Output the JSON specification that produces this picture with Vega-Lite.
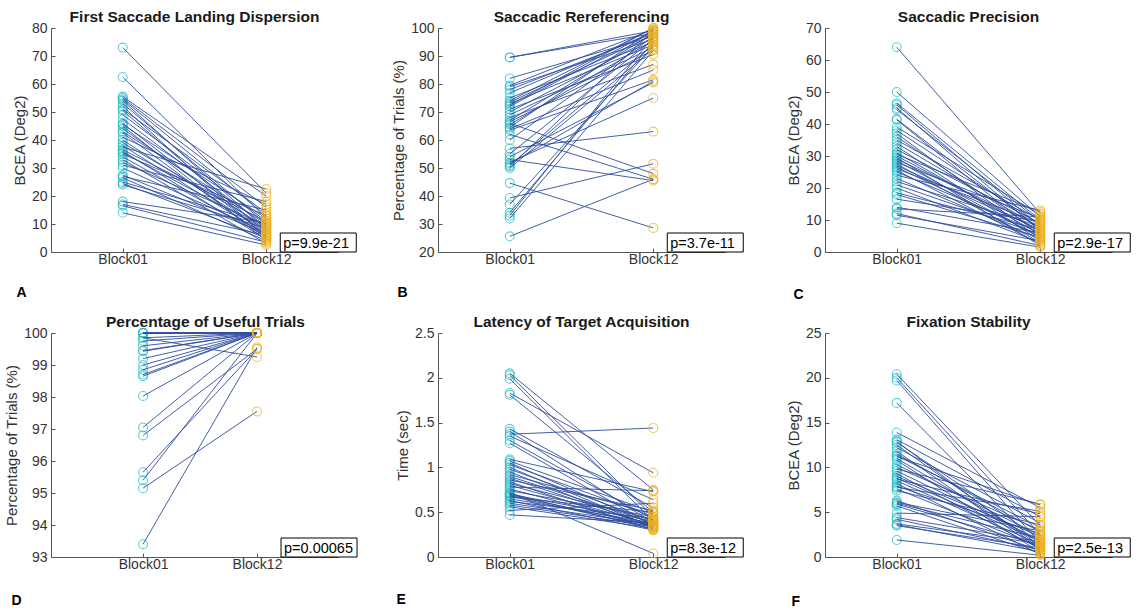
{
"$schema": "https://vega.github.io/schema/vega-lite/v6.json",
"background": "white",
"padding": {"left": 4, "top": 9, "right": 0, "bottom": 0},
"datasets": {
"subjects": [
{"panel":"A","subject":1,"Block01":73,"Block12":21},{"panel":"A","subject":2,"Block01":62.5,"Block12":12},{"panel":"A","subject":3,"Block01":55.5,"Block12":20},{"panel":"A","subject":4,"Block01":55,"Block12":16},{"panel":"A","subject":5,"Block01":54.5,"Block12":13},{"panel":"A","subject":6,"Block01":54,"Block12":8},{"panel":"A","subject":7,"Block01":53,"Block12":10},{"panel":"A","subject":8,"Block01":52,"Block12":5},{"panel":"A","subject":9,"Block01":51,"Block12":14},{"panel":"A","subject":10,"Block01":50.5,"Block12":7},{"panel":"A","subject":11,"Block01":49,"Block12":11},{"panel":"A","subject":12,"Block01":47.5,"Block12":9},{"panel":"A","subject":13,"Block01":46,"Block12":6},{"panel":"A","subject":14,"Block01":45.5,"Block12":12},{"panel":"A","subject":15,"Block01":45,"Block12":4},{"panel":"A","subject":16,"Block01":44,"Block12":8},{"panel":"A","subject":17,"Block01":43,"Block12":10},{"panel":"A","subject":18,"Block01":42.5,"Block12":5},{"panel":"A","subject":19,"Block01":41,"Block12":17},{"panel":"A","subject":20,"Block01":40,"Block12":7},{"panel":"A","subject":21,"Block01":39,"Block12":9},{"panel":"A","subject":22,"Block01":38,"Block12":6},{"panel":"A","subject":23,"Block01":37.5,"Block12":22.5},{"panel":"A","subject":24,"Block01":36.5,"Block12":11},{"panel":"A","subject":25,"Block01":36,"Block12":4.5},{"panel":"A","subject":26,"Block01":35.5,"Block12":8},{"panel":"A","subject":27,"Block01":35,"Block12":13},{"panel":"A","subject":28,"Block01":34,"Block12":5.5},{"panel":"A","subject":29,"Block01":33,"Block12":3},{"panel":"A","subject":30,"Block01":32,"Block12":9.5},{"panel":"A","subject":31,"Block01":31,"Block12":18},{"panel":"A","subject":32,"Block01":30,"Block12":7},{"panel":"A","subject":33,"Block01":27.5,"Block12":6.5},{"panel":"A","subject":34,"Block01":27,"Block12":15},{"panel":"A","subject":35,"Block01":26.5,"Block12":4},{"panel":"A","subject":36,"Block01":25,"Block12":10},{"panel":"A","subject":37,"Block01":24.5,"Block12":5},{"panel":"A","subject":38,"Block01":24,"Block12":8.5},{"panel":"A","subject":39,"Block01":18,"Block12":10.5},{"panel":"A","subject":40,"Block01":17,"Block12":6},{"panel":"A","subject":41,"Block01":16.5,"Block12":3.5},{"panel":"A","subject":42,"Block01":14,"Block12":2.5},
{"panel":"B","subject":1,"Block01":89.5,"Block12":99},{"panel":"B","subject":2,"Block01":89.5,"Block12":98},{"panel":"B","subject":3,"Block01":82,"Block12":97},{"panel":"B","subject":4,"Block01":79.5,"Block12":99.5},{"panel":"B","subject":5,"Block01":79,"Block12":96},{"panel":"B","subject":6,"Block01":76.8,"Block12":98.5},{"panel":"B","subject":7,"Block01":75,"Block12":95},{"panel":"B","subject":8,"Block01":74,"Block12":100},{"panel":"B","subject":9,"Block01":73.5,"Block12":97.5},{"panel":"B","subject":10,"Block01":73,"Block12":94},{"panel":"B","subject":11,"Block01":72,"Block12":99},{"panel":"B","subject":12,"Block01":71,"Block12":90.5},{"panel":"B","subject":13,"Block01":70,"Block12":96.5},{"panel":"B","subject":14,"Block01":69,"Block12":93},{"panel":"B","subject":15,"Block01":68,"Block12":87},{"panel":"B","subject":16,"Block01":67,"Block12":98},{"panel":"B","subject":17,"Block01":66.5,"Block12":92},{"panel":"B","subject":18,"Block01":65.5,"Block12":95.5},{"panel":"B","subject":19,"Block01":64.5,"Block12":99.5},{"panel":"B","subject":20,"Block01":64,"Block12":85},{"panel":"B","subject":21,"Block01":63.5,"Block12":81.5},{"panel":"B","subject":22,"Block01":62,"Block12":46},{"panel":"B","subject":23,"Block01":60,"Block12":97},{"panel":"B","subject":24,"Block01":57,"Block12":63},{"panel":"B","subject":25,"Block01":55,"Block12":96},{"panel":"B","subject":26,"Block01":54,"Block12":80.5},{"panel":"B","subject":27,"Block01":53,"Block12":45.5},{"panel":"B","subject":28,"Block01":52,"Block12":75},{"panel":"B","subject":29,"Block01":51.5,"Block12":81},{"panel":"B","subject":30,"Block01":51,"Block12":94},{"panel":"B","subject":31,"Block01":50.5,"Block12":99},{"panel":"B","subject":32,"Block01":50,"Block12":92.5},{"panel":"B","subject":33,"Block01":44.6,"Block12":28.6},{"panel":"B","subject":34,"Block01":39.3,"Block12":51.5},{"panel":"B","subject":35,"Block01":37,"Block12":93.5},{"panel":"B","subject":36,"Block01":34,"Block12":95},{"panel":"B","subject":37,"Block01":33,"Block12":97},{"panel":"B","subject":38,"Block01":32,"Block12":92},{"panel":"B","subject":39,"Block01":25.6,"Block12":46},{"panel":"B","subject":40,"Block01":78,"Block12":98},{"panel":"B","subject":41,"Block01":72.5,"Block12":100},{"panel":"B","subject":42,"Block01":66,"Block12":48},
{"panel":"C","subject":1,"Block01":64,"Block12":12},{"panel":"C","subject":2,"Block01":50,"Block12":11},{"panel":"C","subject":3,"Block01":46.5,"Block12":10},{"panel":"C","subject":4,"Block01":46,"Block12":8},{"panel":"C","subject":5,"Block01":45,"Block12":6.5},{"panel":"C","subject":6,"Block01":44.5,"Block12":9.5},{"panel":"C","subject":7,"Block01":41.5,"Block12":7},{"panel":"C","subject":8,"Block01":41.3,"Block12":5},{"panel":"C","subject":9,"Block01":39,"Block12":11.5},{"panel":"C","subject":10,"Block01":38,"Block12":8.5},{"panel":"C","subject":11,"Block01":37,"Block12":4},{"panel":"C","subject":12,"Block01":36,"Block12":6},{"panel":"C","subject":13,"Block01":35,"Block12":10},{"panel":"C","subject":14,"Block01":34,"Block12":7.5},{"panel":"C","subject":15,"Block01":33,"Block12":3.5},{"panel":"C","subject":16,"Block01":32,"Block12":9},{"panel":"C","subject":17,"Block01":31,"Block12":5.5},{"panel":"C","subject":18,"Block01":30.5,"Block12":12.5},{"panel":"C","subject":19,"Block01":30,"Block12":6.5},{"panel":"C","subject":20,"Block01":29,"Block12":8},{"panel":"C","subject":21,"Block01":28.5,"Block12":4.5},{"panel":"C","subject":22,"Block01":28,"Block12":10.5},{"panel":"C","subject":23,"Block01":27.5,"Block12":3},{"panel":"C","subject":24,"Block01":27,"Block12":7},{"panel":"C","subject":25,"Block01":26.5,"Block12":5},{"panel":"C","subject":26,"Block01":26,"Block12":9},{"panel":"C","subject":27,"Block01":25.5,"Block12":2.5},{"panel":"C","subject":28,"Block01":25,"Block12":6},{"panel":"C","subject":29,"Block01":24,"Block12":13},{"panel":"C","subject":30,"Block01":23,"Block12":4},{"panel":"C","subject":31,"Block01":22,"Block12":8},{"panel":"C","subject":32,"Block01":21,"Block12":5.5},{"panel":"C","subject":33,"Block01":20,"Block12":3},{"panel":"C","subject":34,"Block01":18.5,"Block12":7},{"panel":"C","subject":35,"Block01":18,"Block12":4.5},{"panel":"C","subject":36,"Block01":16.5,"Block12":9.5},{"panel":"C","subject":37,"Block01":14,"Block12":6},{"panel":"C","subject":38,"Block01":13.5,"Block12":11},{"panel":"C","subject":39,"Block01":12,"Block12":2},{"panel":"C","subject":40,"Block01":11.5,"Block12":3.5},{"panel":"C","subject":41,"Block01":9,"Block12":1.5},{"panel":"C","subject":42,"Block01":29.5,"Block12":2},
{"panel":"D","subject":1,"Block01":93.4,"Block12":99.55},{"panel":"D","subject":2,"Block01":95.15,"Block12":97.55},{"panel":"D","subject":3,"Block01":95.4,"Block12":100},{"panel":"D","subject":4,"Block01":95.65,"Block12":99.5},{"panel":"D","subject":5,"Block01":96.8,"Block12":99.5},{"panel":"D","subject":6,"Block01":97.05,"Block12":100},{"panel":"D","subject":7,"Block01":98.03,"Block12":100},{"panel":"D","subject":8,"Block01":98.65,"Block12":100},{"panel":"D","subject":9,"Block01":98.7,"Block12":100},{"panel":"D","subject":10,"Block01":98.85,"Block12":100},{"panel":"D","subject":11,"Block01":99.0,"Block12":100},{"panel":"D","subject":12,"Block01":99.2,"Block12":100},{"panel":"D","subject":13,"Block01":99.43,"Block12":100},{"panel":"D","subject":14,"Block01":99.45,"Block12":100},{"panel":"D","subject":15,"Block01":99.6,"Block12":100},{"panel":"D","subject":16,"Block01":99.75,"Block12":100},{"panel":"D","subject":17,"Block01":99.85,"Block12":99.25},{"panel":"D","subject":18,"Block01":99.85,"Block12":100},{"panel":"D","subject":19,"Block01":100,"Block12":100},{"panel":"D","subject":20,"Block01":100,"Block12":100},{"panel":"D","subject":21,"Block01":100,"Block12":100},{"panel":"D","subject":22,"Block01":100,"Block12":100},{"panel":"D","subject":23,"Block01":100,"Block12":100},{"panel":"D","subject":24,"Block01":100,"Block12":100},
{"panel":"E","subject":1,"Block01":2.05,"Block12":0.75},{"panel":"E","subject":2,"Block01":2.03,"Block12":0.45},{"panel":"E","subject":3,"Block01":1.99,"Block12":0.4},{"panel":"E","subject":4,"Block01":1.83,"Block12":0.94},{"panel":"E","subject":5,"Block01":1.81,"Block12":0.5},{"panel":"E","subject":6,"Block01":1.43,"Block12":0.55},{"panel":"E","subject":7,"Block01":1.4,"Block12":0.38},{"panel":"E","subject":8,"Block01":1.37,"Block12":1.44},{"panel":"E","subject":9,"Block01":1.35,"Block12":0.64},{"panel":"E","subject":10,"Block01":1.3,"Block12":0.42},{"panel":"E","subject":11,"Block01":1.27,"Block12":0.35},{"panel":"E","subject":12,"Block01":1.09,"Block12":0.73},{"panel":"E","subject":13,"Block01":1.07,"Block12":0.5},{"panel":"E","subject":14,"Block01":1.05,"Block12":0.36},{"panel":"E","subject":15,"Block01":1.03,"Block12":0.45},{"panel":"E","subject":16,"Block01":1.0,"Block12":0.33},{"panel":"E","subject":17,"Block01":0.98,"Block12":0.4},{"panel":"E","subject":18,"Block01":0.95,"Block12":0.32},{"panel":"E","subject":19,"Block01":0.92,"Block12":0.48},{"panel":"E","subject":20,"Block01":0.9,"Block12":0.38},{"panel":"E","subject":21,"Block01":0.88,"Block12":0.35},{"panel":"E","subject":22,"Block01":0.86,"Block12":0.52},{"panel":"E","subject":23,"Block01":0.84,"Block12":0.3},{"panel":"E","subject":24,"Block01":0.82,"Block12":0.42},{"panel":"E","subject":25,"Block01":0.8,"Block12":0.36},{"panel":"E","subject":26,"Block01":0.78,"Block12":0.74},{"panel":"E","subject":27,"Block01":0.76,"Block12":0.34},{"panel":"E","subject":28,"Block01":0.74,"Block12":0.45},{"panel":"E","subject":29,"Block01":0.72,"Block12":0.04},{"panel":"E","subject":30,"Block01":0.71,"Block12":0.31},{"panel":"E","subject":31,"Block01":0.7,"Block12":0.4},{"panel":"E","subject":32,"Block01":0.69,"Block12":0.35},{"panel":"E","subject":33,"Block01":0.68,"Block12":0.33},{"panel":"E","subject":34,"Block01":0.67,"Block12":0.5},{"panel":"E","subject":35,"Block01":0.65,"Block12":0.38},{"panel":"E","subject":36,"Block01":0.63,"Block12":0.3},{"panel":"E","subject":37,"Block01":0.62,"Block12":0.43},{"panel":"E","subject":38,"Block01":0.6,"Block12":0.36},{"panel":"E","subject":39,"Block01":0.58,"Block12":0.34},{"panel":"E","subject":40,"Block01":0.56,"Block12":0.32},{"panel":"E","subject":41,"Block01":0.52,"Block12":0.6},{"panel":"E","subject":42,"Block01":0.47,"Block12":0.38},
{"panel":"F","subject":1,"Block01":20.4,"Block12":3.5},{"panel":"F","subject":2,"Block01":20.0,"Block12":2.5},{"panel":"F","subject":3,"Block01":19.7,"Block12":1.5},{"panel":"F","subject":4,"Block01":17.2,"Block12":1.0},{"panel":"F","subject":5,"Block01":13.9,"Block12":5.5},{"panel":"F","subject":6,"Block01":13.1,"Block12":4.5},{"panel":"F","subject":7,"Block01":12.8,"Block12":2.0},{"panel":"F","subject":8,"Block01":12.5,"Block12":1.2},{"panel":"F","subject":9,"Block01":12.2,"Block12":3.8},{"panel":"F","subject":10,"Block01":11.8,"Block12":0.8},{"panel":"F","subject":11,"Block01":11.5,"Block12":2.8},{"panel":"F","subject":12,"Block01":11.2,"Block12":5.8},{"panel":"F","subject":13,"Block01":11.0,"Block12":1.6},{"panel":"F","subject":14,"Block01":10.8,"Block12":0.5},{"panel":"F","subject":15,"Block01":10.0,"Block12":3.0},{"panel":"F","subject":16,"Block01":9.6,"Block12":1.9},{"panel":"F","subject":17,"Block01":9.3,"Block12":0.9},{"panel":"F","subject":18,"Block01":9.0,"Block12":2.3},{"panel":"F","subject":19,"Block01":8.7,"Block12":4.8},{"panel":"F","subject":20,"Block01":8.5,"Block12":1.4},{"panel":"F","subject":21,"Block01":8.2,"Block12":0.3},{"panel":"F","subject":22,"Block01":7.9,"Block12":2.6},{"panel":"F","subject":23,"Block01":7.6,"Block12":1.1},{"panel":"F","subject":24,"Block01":7.4,"Block12":3.6},{"panel":"F","subject":25,"Block01":6.3,"Block12":0.7},{"panel":"F","subject":26,"Block01":6.0,"Block12":2.1},{"panel":"F","subject":27,"Block01":5.9,"Block12":1.3},{"panel":"F","subject":28,"Block01":5.7,"Block12":0.4},{"panel":"F","subject":29,"Block01":4.9,"Block12":4.5},{"panel":"F","subject":30,"Block01":4.4,"Block12":1.7},{"panel":"F","subject":31,"Block01":3.6,"Block12":0.6},{"panel":"F","subject":32,"Block01":3.5,"Block12":1.0},{"panel":"F","subject":33,"Block01":1.9,"Block12":0.2},{"panel":"F","subject":34,"Block01":7.8,"Block12":5.1},{"panel":"F","subject":35,"Block01":10.3,"Block12":2.4},{"panel":"F","subject":36,"Block01":12.9,"Block12":0.9},{"panel":"F","subject":37,"Block01":11.3,"Block12":3.3},{"panel":"F","subject":38,"Block01":8.8,"Block12":1.8},{"panel":"F","subject":39,"Block01":6.1,"Block12":2.9},{"panel":"F","subject":40,"Block01":4.2,"Block12":0.8},{"panel":"F","subject":41,"Block01":9.8,"Block12":5.9},{"panel":"F","subject":42,"Block01":3.7,"Block12":1.5}
],
"pvalues": [
{"panel":"A","p":"p=9.9e-21","block":"Block12","value":0},
{"panel":"B","p":"p=3.7e-11","block":"Block12","value":20},
{"panel":"C","p":"p=2.9e-17","block":"Block12","value":0},
{"panel":"D","p":"p=0.00065","block":"Block12","value":93},
{"panel":"E","p":"p=8.3e-12","block":"Block12","value":0},
{"panel":"F","p":"p=2.5e-13","block":"Block12","value":0}
]
},
"columns": 3,
"spacing": {"row": 81, "column": 100},
"bounds": "flush",
"concat": [
{
 "width": 287, "height": 224,
 "title": {"text": "First Saccade Landing Dispersion"},
 "encoding": {
  "x": {"field": "block", "type": "ordinal", "scale": {"type": "point", "padding": 0.5, "domain": ["Block01", "Block12"]}, "axis": {"title": "A", "titleX": -35, "titleY": 44}},
  "y": {"field": "value", "type": "quantitative", "scale": {"domain": [0, 80], "nice": false, "zero": false}, "axis": {"title": "BCEA (Deg2)", "values": [0,10,20,30,40,50,60,70,80]}}
 },
 "layer": [
  {"data": {"name": "subjects"}, "transform": [{"filter": "datum.panel === 'A'"}, {"fold": ["Block01", "Block12"], "as": ["block", "value"]}],
   "layer": [
    {"transform": [{"filter": "datum.block === 'Block01'"}], "mark": {"type": "point", "shape": "circle", "filled": false, "size": 80, "strokeWidth": 1.1}, "encoding": {"color": {"field": "block", "type": "nominal", "scale": {"domain": ["Block01", "Block12"], "range": ["#22bcc4", "#edb120"]}, "legend": null}}},
    {"mark": {"type": "line", "color": "#2f4d9e", "strokeWidth": 0.9}, "encoding": {"detail": {"field": "subject", "type": "nominal"}}},
    {"transform": [{"filter": "datum.block === 'Block12'"}], "mark": {"type": "point", "shape": "circle", "filled": false, "size": 80, "strokeWidth": 1.1}, "encoding": {"color": {"field": "block", "type": "nominal", "legend": null}}}
   ]},
  {"data": {"name": "pvalues"}, "transform": [{"filter": "datum.panel === 'A'"}],
   "layer": [
    {"mark": {"type": "rect", "fill": "white", "stroke": "#000", "strokeWidth": 1, "xOffset": 14, "x2Offset": 90, "y2Offset": -19}, "encoding": {"x2": {"field": "block"}, "y2": {"field": "value"}}},
    {"mark": {"type": "text", "align": "left", "baseline": "alphabetic", "dx": 17, "dy": -4, "fontSize": 14.5, "color": "#000"}, "encoding": {"text": {"field": "p"}}}
   ]}
 ]
},
{
 "width": 287, "height": 224,
 "title": {"text": "Saccadic Rereferencing"},
 "encoding": {
  "x": {"field": "block", "type": "ordinal", "scale": {"type": "point", "padding": 0.5, "domain": ["Block01", "Block12"]}, "axis": {"title": "B", "titleX": -41, "titleY": 44}},
  "y": {"field": "value", "type": "quantitative", "scale": {"domain": [20, 100], "nice": false, "zero": false}, "axis": {"title": "Percentage of Trials (%)", "values": [20,30,40,50,60,70,80,90,100]}}
 },
 "layer": [
  {"data": {"name": "subjects"}, "transform": [{"filter": "datum.panel === 'B'"}, {"fold": ["Block01", "Block12"], "as": ["block", "value"]}],
   "layer": [
    {"transform": [{"filter": "datum.block === 'Block01'"}], "mark": {"type": "point", "shape": "circle", "filled": false, "size": 80, "strokeWidth": 1.1}, "encoding": {"color": {"field": "block", "type": "nominal", "scale": {"domain": ["Block01", "Block12"], "range": ["#22bcc4", "#edb120"]}, "legend": null}}},
    {"mark": {"type": "line", "color": "#2f4d9e", "strokeWidth": 0.9}, "encoding": {"detail": {"field": "subject", "type": "nominal"}}},
    {"transform": [{"filter": "datum.block === 'Block12'"}], "mark": {"type": "point", "shape": "circle", "filled": false, "size": 80, "strokeWidth": 1.1}, "encoding": {"color": {"field": "block", "type": "nominal", "legend": null}}}
   ]},
  {"data": {"name": "pvalues"}, "transform": [{"filter": "datum.panel === 'B'"}],
   "layer": [
    {"mark": {"type": "rect", "fill": "white", "stroke": "#000", "strokeWidth": 1, "xOffset": 14, "x2Offset": 90, "y2Offset": -19}, "encoding": {"x2": {"field": "block"}, "y2": {"field": "value"}}},
    {"mark": {"type": "text", "align": "left", "baseline": "alphabetic", "dx": 17, "dy": -4, "fontSize": 14.5, "color": "#000"}, "encoding": {"text": {"field": "p"}}}
   ]}
 ]
},
{
 "width": 287, "height": 224,
 "title": {"text": "Saccadic Precision"},
 "encoding": {
  "x": {"field": "block", "type": "ordinal", "scale": {"type": "point", "padding": 0.5, "domain": ["Block01", "Block12"]}, "axis": {"title": "C", "titleX": -32, "titleY": 46}},
  "y": {"field": "value", "type": "quantitative", "scale": {"domain": [0, 70], "nice": false, "zero": false}, "axis": {"title": "BCEA (Deg2)", "values": [0,10,20,30,40,50,60,70]}}
 },
 "layer": [
  {"data": {"name": "subjects"}, "transform": [{"filter": "datum.panel === 'C'"}, {"fold": ["Block01", "Block12"], "as": ["block", "value"]}],
   "layer": [
    {"transform": [{"filter": "datum.block === 'Block01'"}], "mark": {"type": "point", "shape": "circle", "filled": false, "size": 80, "strokeWidth": 1.1}, "encoding": {"color": {"field": "block", "type": "nominal", "scale": {"domain": ["Block01", "Block12"], "range": ["#22bcc4", "#edb120"]}, "legend": null}}},
    {"mark": {"type": "line", "color": "#2f4d9e", "strokeWidth": 0.9}, "encoding": {"detail": {"field": "subject", "type": "nominal"}}},
    {"transform": [{"filter": "datum.block === 'Block12'"}], "mark": {"type": "point", "shape": "circle", "filled": false, "size": 80, "strokeWidth": 1.1}, "encoding": {"color": {"field": "block", "type": "nominal", "legend": null}}}
   ]},
  {"data": {"name": "pvalues"}, "transform": [{"filter": "datum.panel === 'C'"}],
   "layer": [
    {"mark": {"type": "rect", "fill": "white", "stroke": "#000", "strokeWidth": 1, "xOffset": 14, "x2Offset": 90, "y2Offset": -19}, "encoding": {"x2": {"field": "block"}, "y2": {"field": "value"}}},
    {"mark": {"type": "text", "align": "left", "baseline": "alphabetic", "dx": 17, "dy": -4, "fontSize": 14.5, "color": "#000"}, "encoding": {"text": {"field": "p"}}}
   ]}
 ]
},
{
 "width": 287, "height": 224,
 "title": {"text": "Percentage of Useful Trials", "dx": 11},
 "encoding": {
  "x": {"field": "block", "type": "ordinal", "scale": {"type": "point", "padding": 0.759, "align": 0.532, "domain": ["Block01", "Block12"]}, "axis": {"title": "D", "titleX": -40, "titleY": 47}},
  "y": {"field": "value", "type": "quantitative", "scale": {"domain": [93, 100], "nice": false, "zero": false}, "axis": {"title": "Percentage of Trials (%)", "values": [93,94,95,96,97,98,99,100]}}
 },
 "layer": [
  {"data": {"name": "subjects"}, "transform": [{"filter": "datum.panel === 'D'"}, {"fold": ["Block01", "Block12"], "as": ["block", "value"]}],
   "layer": [
    {"transform": [{"filter": "datum.block === 'Block01'"}], "mark": {"type": "point", "shape": "circle", "filled": false, "size": 80, "strokeWidth": 1.1}, "encoding": {"color": {"field": "block", "type": "nominal", "scale": {"domain": ["Block01", "Block12"], "range": ["#22bcc4", "#edb120"]}, "legend": null}}},
    {"mark": {"type": "line", "color": "#2f4d9e", "strokeWidth": 0.9}, "encoding": {"detail": {"field": "subject", "type": "nominal"}}},
    {"transform": [{"filter": "datum.block === 'Block12'"}], "mark": {"type": "point", "shape": "circle", "filled": false, "size": 80, "strokeWidth": 1.1}, "encoding": {"color": {"field": "block", "type": "nominal", "legend": null}}}
   ]},
  {"data": {"name": "pvalues"}, "transform": [{"filter": "datum.panel === 'D'"}],
   "layer": [
    {"mark": {"type": "rect", "fill": "white", "stroke": "#000", "strokeWidth": 1, "xOffset": 24, "x2Offset": 100, "y2Offset": -19}, "encoding": {"x2": {"field": "block"}, "y2": {"field": "value"}}},
    {"mark": {"type": "text", "align": "left", "baseline": "alphabetic", "dx": 27, "dy": -4, "fontSize": 14.5, "color": "#000"}, "encoding": {"text": {"field": "p"}}}
   ]}
 ]
},
{
 "width": 287, "height": 224,
 "title": {"text": "Latency of Target Acquisition"},
 "encoding": {
  "x": {"field": "block", "type": "ordinal", "scale": {"type": "point", "padding": 0.5, "domain": ["Block01", "Block12"]}, "axis": {"title": "E", "titleX": -42, "titleY": 46}},
  "y": {"field": "value", "type": "quantitative", "scale": {"domain": [0, 2.5], "nice": false, "zero": false}, "axis": {"title": "Time (sec)", "values": [0,0.5,1,1.5,2,2.5]}}
 },
 "layer": [
  {"data": {"name": "subjects"}, "transform": [{"filter": "datum.panel === 'E'"}, {"fold": ["Block01", "Block12"], "as": ["block", "value"]}],
   "layer": [
    {"transform": [{"filter": "datum.block === 'Block01'"}], "mark": {"type": "point", "shape": "circle", "filled": false, "size": 80, "strokeWidth": 1.1}, "encoding": {"color": {"field": "block", "type": "nominal", "scale": {"domain": ["Block01", "Block12"], "range": ["#22bcc4", "#edb120"]}, "legend": null}}},
    {"mark": {"type": "line", "color": "#2f4d9e", "strokeWidth": 0.9}, "encoding": {"detail": {"field": "subject", "type": "nominal"}}},
    {"transform": [{"filter": "datum.block === 'Block12'"}], "mark": {"type": "point", "shape": "circle", "filled": false, "size": 80, "strokeWidth": 1.1}, "encoding": {"color": {"field": "block", "type": "nominal", "legend": null}}}
   ]},
  {"data": {"name": "pvalues"}, "transform": [{"filter": "datum.panel === 'E'"}],
   "layer": [
    {"mark": {"type": "rect", "fill": "white", "stroke": "#000", "strokeWidth": 1, "xOffset": 14, "x2Offset": 90, "y2Offset": -19}, "encoding": {"x2": {"field": "block"}, "y2": {"field": "value"}}},
    {"mark": {"type": "text", "align": "left", "baseline": "alphabetic", "dx": 17, "dy": -4, "fontSize": 14.5, "color": "#000"}, "encoding": {"text": {"field": "p"}}}
   ]}
 ]
},
{
 "width": 287, "height": 224,
 "title": {"text": "Fixation Stability"},
 "encoding": {
  "x": {"field": "block", "type": "ordinal", "scale": {"type": "point", "padding": 0.5, "domain": ["Block01", "Block12"]}, "axis": {"title": "F", "titleX": -34, "titleY": 48}},
  "y": {"field": "value", "type": "quantitative", "scale": {"domain": [0, 25], "nice": false, "zero": false}, "axis": {"title": "BCEA (Deg2)", "values": [0,5,10,15,20,25]}}
 },
 "layer": [
  {"data": {"name": "subjects"}, "transform": [{"filter": "datum.panel === 'F'"}, {"fold": ["Block01", "Block12"], "as": ["block", "value"]}],
   "layer": [
    {"transform": [{"filter": "datum.block === 'Block01'"}], "mark": {"type": "point", "shape": "circle", "filled": false, "size": 80, "strokeWidth": 1.1}, "encoding": {"color": {"field": "block", "type": "nominal", "scale": {"domain": ["Block01", "Block12"], "range": ["#22bcc4", "#edb120"]}, "legend": null}}},
    {"mark": {"type": "line", "color": "#2f4d9e", "strokeWidth": 0.9}, "encoding": {"detail": {"field": "subject", "type": "nominal"}}},
    {"transform": [{"filter": "datum.block === 'Block12'"}], "mark": {"type": "point", "shape": "circle", "filled": false, "size": 80, "strokeWidth": 1.1}, "encoding": {"color": {"field": "block", "type": "nominal", "legend": null}}}
   ]},
  {"data": {"name": "pvalues"}, "transform": [{"filter": "datum.panel === 'F'"}],
   "layer": [
    {"mark": {"type": "rect", "fill": "white", "stroke": "#000", "strokeWidth": 1, "xOffset": 14, "x2Offset": 90, "y2Offset": -19}, "encoding": {"x2": {"field": "block"}, "y2": {"field": "value"}}},
    {"mark": {"type": "text", "align": "left", "baseline": "alphabetic", "dx": 17, "dy": -4, "fontSize": 14.5, "color": "#000"}, "encoding": {"text": {"field": "p"}}}
   ]}
 ]
}
],
"config": {
 "view": {"stroke": null},
 "font": "Liberation Sans",
 "axis": {"domainColor": "#555555", "domainWidth": 1, "tickColor": "#555555", "tickSize": -4, "tickWidth": 1, "labelColor": "#333333", "labelFontSize": 14, "labelFont": "Liberation Sans", "titleFont": "Liberation Sans", "titleFontSize": 15, "titleFontWeight": "normal", "titleColor": "#333333", "grid": false},
 "axisX": {"labelAngle": 0, "titleFontWeight": "bold", "titleFontSize": 14, "titleColor": "#000000", "titleAlign": "left", "titleBaseline": "alphabetic", "titleAnchor": "start", "labelPadding": 4},
 "axisY": {"titlePadding": 4, "labelPadding": 8, "format": ".2~f"},
 "title": {"font": "Liberation Sans", "fontSize": 15.5, "fontWeight": "bold", "color": "#1a1a1a", "anchor": "middle", "offset": -4}
}
}
